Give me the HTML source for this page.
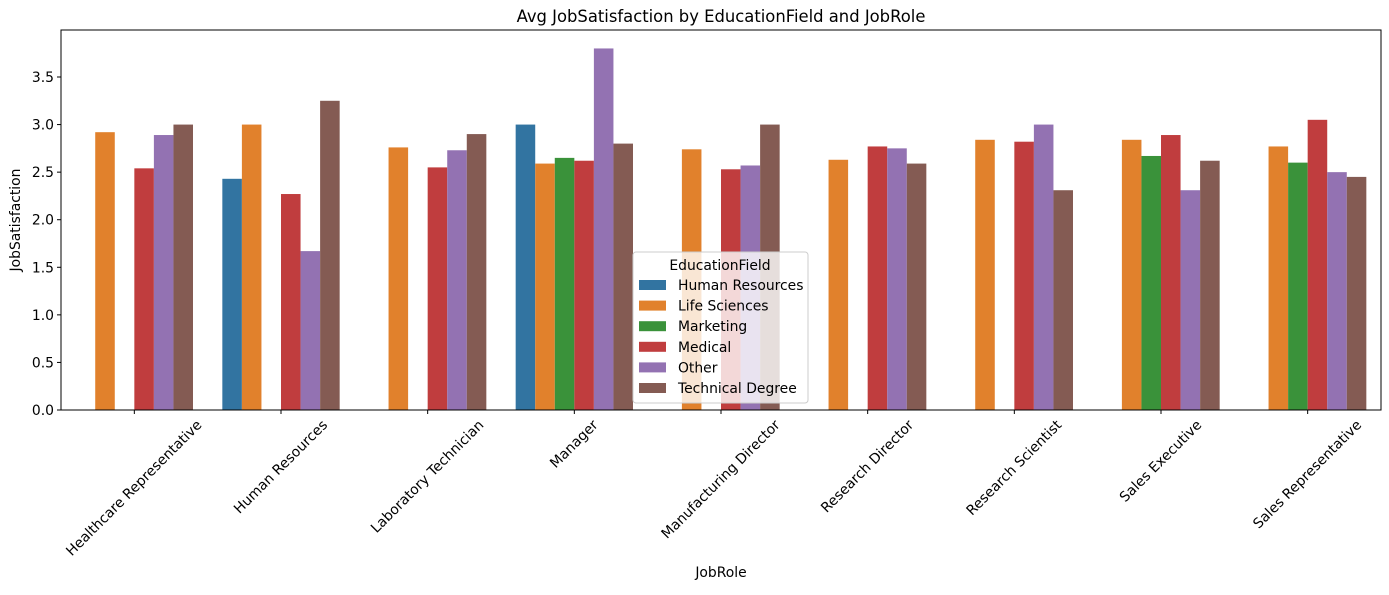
<!DOCTYPE html>
<html><head><meta charset="utf-8"><style>
body{margin:0;background:#fff;}
text{font-family:"DejaVu Sans","Liberation Sans",sans-serif;fill:#000;}
</style></head><body>
<svg id="chart" width="1389" height="590" xmlns="http://www.w3.org/2000/svg">
<text x="721" y="22" font-size="16.4" text-anchor="middle">Avg JobSatisfaction by EducationField and JobRole</text>
<g id="bars"></g>
<g id="yaxis"></g>
<g id="xaxis"></g>
<rect x="61" y="30" width="1320" height="380" fill="none" stroke="#000" stroke-width="1"/>
<text transform="translate(20,220) rotate(-90)" font-size="13.9" text-anchor="middle">JobSatisfaction</text>
<text x="721" y="577" font-size="13.9" text-anchor="middle">JobRole</text>
<g id="legend"></g>
</svg>
<script>
const categories=["Healthcare Representative","Human Resources","Laboratory Technician","Manager","Manufacturing Director","Research Director","Research Scientist","Sales Executive","Sales Representative"];
const seriesNames=["Human Resources","Life Sciences","Marketing","Medical","Other","Technical Degree"];
const seriesHR=[null,2.43,null,3.0,null,null,null,null,null];
const seriesLS=[2.92,3.0,2.76,2.59,2.74,2.63,2.84,2.84,2.77];
const seriesMk=[null,null,null,2.65,null,null,null,2.67,2.6];
const seriesMed=[2.54,2.27,2.55,2.62,2.53,2.77,2.82,2.89,3.05];
const seriesOther=[2.89,1.67,2.73,3.8,2.57,2.75,3.0,2.31,2.5];
const seriesTech=[3.0,3.25,2.9,2.8,3.0,2.59,2.31,2.62,2.45];
const yTicks=[0,0.5,1.0,1.5,2.0,2.5,3.0,3.5];
const colors=["#3274a1","#e1812c","#3a923a","#c03d3e","#9372b2","#845b53"];
const allSeries=[seriesHR,seriesLS,seriesMk,seriesMed,seriesOther,seriesTech];
const NS="http://www.w3.org/2000/svg";
const L=61,R=1381,T=30,B=410,yMax=3.994;
const FS=13.9;
const step=(R-L)/categories.length;
const xC=i=>L+step*(i+0.5);
const y=v=>B-(v/yMax)*(B-T);
const bw=step*0.8/seriesNames.length;
function mk(tag,attrs,parent){const e=document.createElementNS(NS,tag);for(const k in attrs)e.setAttribute(k,attrs[k]);parent.appendChild(e);return e;}
const bars=document.getElementById('bars');
allSeries.forEach((s,j)=>{s.forEach((v,i)=>{if(v==null)return;
 const x0=xC(i)-step*0.4+j*bw;
 const r=mk('rect',{x:x0,y:y(v),width:bw,height:B-y(v),fill:colors[j]},bars);
 
 
});});
const ya=document.getElementById('yaxis');
yTicks.forEach(t=>{
 const l=mk('line',{x1:L-4,x2:L,y1:y(t),y2:y(t),stroke:'#000'},ya);
 
 
 const tx=mk('text',{x:L-7,y:y(t)+5,'font-size':FS,'text-anchor':'end'},ya);
 tx.textContent=t.toFixed(1);
 
 
});
const xa=document.getElementById('xaxis');
categories.forEach((c,i)=>{
 const l=mk('line',{x1:xC(i),x2:xC(i),y1:B,y2:B+4,stroke:'#000'},xa);
 
 
 const tx=mk('text',{'font-size':FS,'text-anchor':'middle','dominant-baseline':'central'},xa);
 tx.textContent=c;
 
 
 const len=tx.getComputedTextLength();
 const h=(len+FS*1.2)*0.7071;
 const cy=B+7+h/2;
 tx.setAttribute('transform','translate('+xC(i)+','+cy+') rotate(-45)');
});
const lg=document.getElementById('legend');
const bg=mk('rect',{x:633,y:252,width:175,height:151,rx:3,fill:'rgba(255,255,255,0.8)',stroke:'#ccc'},lg);


const lt=mk('text',{x:720,y:270,'font-size':FS,'text-anchor':'middle'},lg);
lt.textContent='EducationField';


seriesNames.forEach((n,j)=>{
 const yy=285+j*20.6;
 const g=mk('g',{},lg);
 
 
 mk('rect',{x:639,y:yy-5,width:27,height:10,fill:colors[j]},g);
 const t=mk('text',{x:678,y:yy+5,'font-size':FS},g);
 t.textContent=n;
});
</script>
</body></html>
